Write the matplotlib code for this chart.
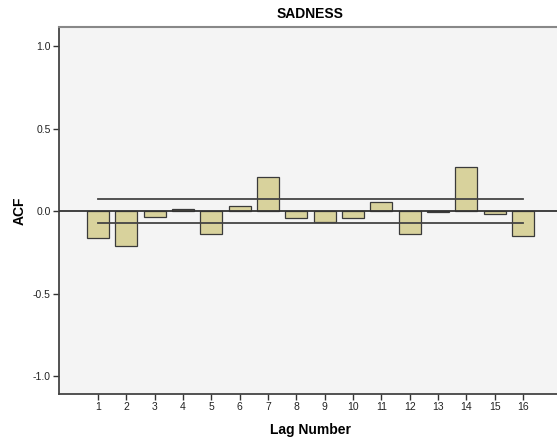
import numpy as np
import matplotlib
matplotlib.use("Agg")
import matplotlib.pyplot as plt

# ACF of SADNESS, lags 1..16, with the 95% confidence limits
lags = np.arange(1, 17)
acf = [-0.164, -0.210, -0.036, 0.016, -0.137, 0.030, 0.208, -0.042,
       -0.066, -0.040, 0.055, -0.141, -0.003, 0.269, -0.020, -0.151]
upper_limit = 0.073
lower_limit = -0.073

plt.rcParams["font.family"] = ["Liberation Sans", "DejaVu Sans"]

fig = plt.figure(figsize=(5.57, 4.42), dpi=100)
ax = fig.add_axes([59 / 557, 1 - 393.7 / 442, 503 / 557, 366.4 / 442])
ax.set_facecolor("#f4f4f4")

ax.bar(lags, acf, width=0.78, color="#d8d29c", edgecolor="#3a3a3a", linewidth=0.9, zorder=2)
ax.axhline(0, color="#333333", lw=1.3, zorder=3)
ax.plot([lags[0], lags[-1]], [upper_limit, upper_limit], color="#444444", lw=1.3, zorder=3)
ax.plot([lags[0], lags[-1]], [lower_limit, lower_limit], color="#444444", lw=1.3, zorder=3)

ax.set_xlim(-0.38, 17.38)
ax.set_ylim(-1.107, 1.115)
ax.set_xticks(lags)
ax.set_yticks([-1.0, -0.5, 0.0, 0.5, 1.0])
ax.set_yticklabels(["-1.0", "-0.5", "0.0", "0.5", "1.0"])
ax.tick_params(axis="both", labelsize=7.5, length=4, width=1, color="#333333",
               labelcolor="#222222", pad=2)

for side in ("left", "bottom"):
    ax.spines[side].set_color("#444444")
    ax.spines[side].set_linewidth(1.3)
ax.spines["top"].set_color("#888888")
ax.spines["top"].set_linewidth(1.5)
ax.spines["right"].set_visible(False)

ax.set_title("SADNESS", fontsize=10, fontweight="bold", pad=7)
ax.set_xlabel("Lag Number", fontsize=10, fontweight="bold", labelpad=8)
ax.set_ylabel("ACF", fontsize=10, fontweight="bold", labelpad=4)

fig.savefig("out.png", dpi=100)
